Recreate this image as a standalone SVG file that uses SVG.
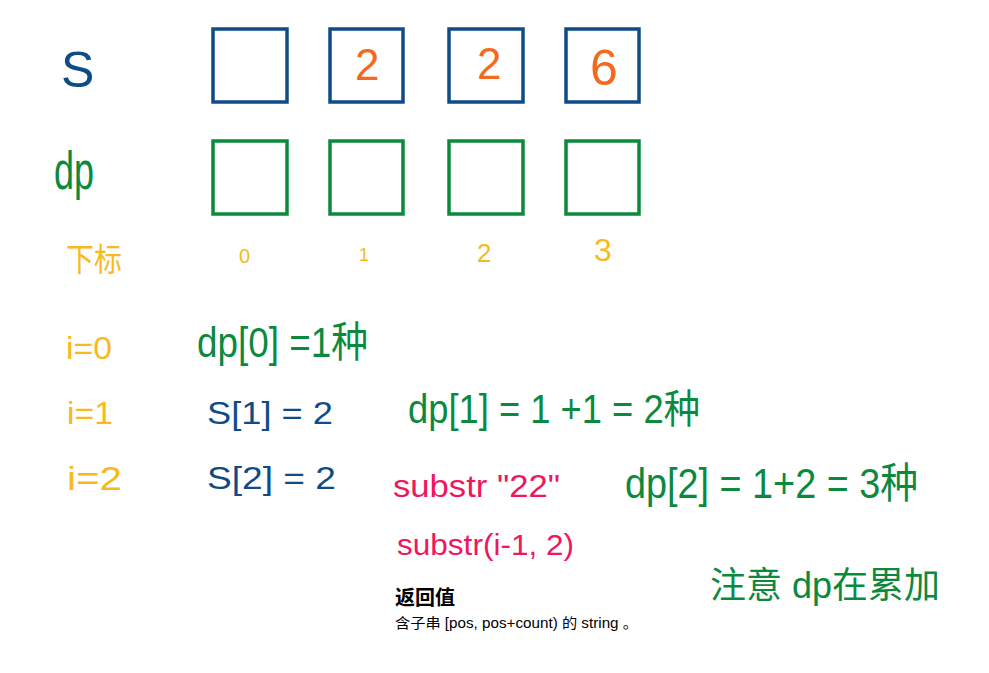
<svg xmlns="http://www.w3.org/2000/svg" width="989" height="673" viewBox="0 0 989 673">
<style>
.t{font-family:"Liberation Sans","Noto Sans CJK SC",sans-serif}
.blue{fill:#0f4c87}
.green{fill:#0b8a3e}
.orange{fill:#f36a1e}
.yellow{fill:#f9b81c}
.pink{fill:#ee1760}
.bs{fill:none;stroke:#0f4c87;stroke-width:3.5}
.gs{fill:none;stroke:#0b8a3e;stroke-width:3.5}
</style>
<rect width="989" height="673" fill="#ffffff"/>
<g id="labels">
<text class="t blue" x="61" y="87" font-size="50">S</text>
<text class="t green" x="54" y="189" font-size="54" textLength="40" lengthAdjust="spacingAndGlyphs">dp</text>
<text class="t yellow" x="66" y="271" font-size="32" textLength="56" lengthAdjust="spacingAndGlyphs">下标</text>
</g>
<g id="s-row">
<g id="s0"><rect class="bs" x="213" y="29" width="74" height="73"/></g>
<g id="s1"><rect class="bs" x="330" y="29" width="73" height="73"/><text class="t orange" x="355" y="80" font-size="44">2</text></g>
<g id="s2"><rect class="bs" x="449" y="29" width="74" height="73"/><text class="t orange" x="477" y="79" font-size="44">2</text></g>
<g id="s3"><rect class="bs" x="566" y="29" width="73" height="73"/><text class="t orange" x="590" y="85" font-size="50">6</text></g>
</g>
<g id="dp-row">
<g id="dp0"><rect class="gs" x="213" y="141" width="74" height="73"/></g>
<g id="dp1"><rect class="gs" x="330" y="141" width="73" height="73"/></g>
<g id="dp2"><rect class="gs" x="449" y="141" width="74" height="73"/></g>
<g id="dp3"><rect class="gs" x="566" y="141" width="73" height="73"/></g>
</g>
<g id="indices">
<text class="t yellow" x="239" y="263" font-size="20">0</text>
<text class="t yellow" x="359" y="261" font-size="18">1</text>
<text class="t yellow" x="477" y="262" font-size="26">2</text>
<text class="t yellow" x="594" y="261" font-size="32">3</text>
</g>
<g id="steps">
<text class="t yellow" x="66" y="359" font-size="32" textLength="46" lengthAdjust="spacingAndGlyphs">i=0</text>
<text class="t yellow" x="67" y="424" font-size="32" textLength="46" lengthAdjust="spacingAndGlyphs">i=1</text>
<text class="t yellow" x="67" y="490" font-size="34" textLength="55" lengthAdjust="spacingAndGlyphs">i=2</text>
<text class="t green" x="197" y="357" font-size="42" textLength="171" lengthAdjust="spacingAndGlyphs">dp[0] =1种</text>
<text class="t blue" x="207" y="424" font-size="32" textLength="126" lengthAdjust="spacingAndGlyphs">S[1]  = 2</text>
<text class="t blue" x="207" y="489" font-size="32" textLength="129" lengthAdjust="spacingAndGlyphs">S[2]  = 2</text>
<text class="t green" x="408" y="423" font-size="40" textLength="292" lengthAdjust="spacingAndGlyphs">dp[1] = 1 +1 = 2种</text>
<text class="t pink" x="393" y="497" font-size="32" textLength="167" lengthAdjust="spacingAndGlyphs">substr "22"</text>
<text class="t green" x="625" y="498" font-size="42" textLength="293" lengthAdjust="spacingAndGlyphs">dp[2] = 1+2 = 3种</text>
<text class="t pink" x="397" y="555" font-size="30" textLength="177" lengthAdjust="spacingAndGlyphs">substr(i-1, 2)</text>
<text class="t green" x="710" y="598" font-size="36">注意 dp在累加</text>
</g>
<g id="doc">
<text class="t" x="395" y="605" font-size="20" font-weight="bold" fill="#000">返回值</text>
<text class="t" x="395" y="628" font-size="14" fill="#000" textLength="243" lengthAdjust="spacingAndGlyphs">含子串 [pos, pos+count) 的 string 。</text>
</g>
</svg>
